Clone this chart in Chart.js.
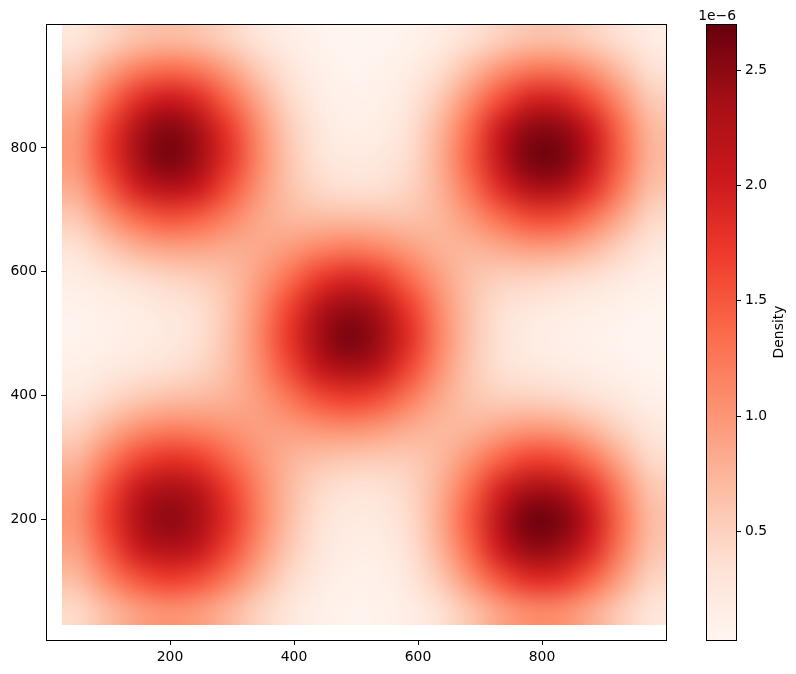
<!DOCTYPE html>
<html>
<head>
<meta charset="utf-8">
<script src="https://cdn.jsdelivr.net/npm/chart.js@4/dist/chart.umd.min.js"></script>
<style>
  html, body { margin: 0; padding: 0; background: #fff; }
  #wrap { width: 796px; height: 674px; }
</style>
</head>
<body>
<div id="wrap"><canvas id="chart" width="796" height="674"></canvas></div>
<script>
// grid cell centres of the density image
const xCenters = [50, 99, 148, 197, 245, 294, 343, 391, 440, 489, 537, 586, 635, 684, 732, 781, 830, 878, 927, 976];
const yCenters = [55, 104, 152, 201, 249, 298, 346, 394, 443, 491, 540, 588, 637, 685, 734, 782, 830, 879, 927, 976];

// density (x 1e-6), one row per yCenter, bottom row first
const density = [
  [0.43, 0.70, 0.94, 1.05, 0.98, 0.76, 0.49, 0.27, 0.12, 0.06, 0.07, 0.15, 0.34, 0.62, 0.92, 1.11, 1.09, 0.86, 0.55, 0.28],
  [0.69, 1.12, 1.51, 1.69, 1.57, 1.22, 0.79, 0.43, 0.20, 0.10, 0.11, 0.25, 0.56, 1.03, 1.52, 1.84, 1.80, 1.43, 0.91, 0.47],
  [0.92, 1.49, 2.01, 2.24, 2.09, 1.63, 1.05, 0.58, 0.28, 0.15, 0.16, 0.34, 0.75, 1.37, 2.03, 2.45, 2.39, 1.90, 1.21, 0.63],
  [1.03, 1.66, 2.24, 2.50, 2.33, 1.82, 1.19, 0.68, 0.35, 0.21, 0.22, 0.40, 0.83, 1.49, 2.20, 2.65, 2.59, 2.06, 1.32, 0.68],
  [0.95, 1.54, 2.08, 2.32, 2.18, 1.71, 1.16, 0.72, 0.44, 0.32, 0.32, 0.45, 0.79, 1.34, 1.95, 2.34, 2.28, 1.81, 1.16, 0.60],
  [0.74, 1.19, 1.61, 1.80, 1.71, 1.39, 1.03, 0.77, 0.64, 0.58, 0.55, 0.56, 0.71, 1.03, 1.42, 1.67, 1.62, 1.29, 0.82, 0.42],
  [0.48, 0.78, 1.05, 1.19, 1.16, 1.03, 0.93, 0.94, 1.01, 1.04, 0.96, 0.81, 0.72, 0.75, 0.89, 1.00, 0.95, 0.75, 0.48, 0.25],
  [0.26, 0.43, 0.58, 0.68, 0.72, 0.79, 0.95, 1.24, 1.55, 1.68, 1.55, 1.21, 0.85, 0.62, 0.53, 0.51, 0.46, 0.36, 0.23, 0.12],
  [0.12, 0.20, 0.28, 0.36, 0.46, 0.67, 1.05, 1.58, 2.08, 2.31, 2.12, 1.61, 1.04, 0.60, 0.36, 0.26, 0.20, 0.15, 0.09, 0.05],
  [0.06, 0.11, 0.16, 0.22, 0.35, 0.63, 1.11, 1.75, 2.35, 2.62, 2.41, 1.83, 1.15, 0.63, 0.33, 0.18, 0.12, 0.09, 0.05, 0.03],
  [0.07, 0.12, 0.18, 0.25, 0.36, 0.61, 1.06, 1.65, 2.21, 2.46, 2.27, 1.72, 1.10, 0.63, 0.36, 0.25, 0.19, 0.14, 0.09, 0.05],
  [0.15, 0.26, 0.37, 0.45, 0.52, 0.65, 0.93, 1.33, 1.74, 1.92, 1.77, 1.37, 0.94, 0.64, 0.51, 0.47, 0.42, 0.34, 0.22, 0.12],
  [0.32, 0.55, 0.77, 0.88, 0.88, 0.82, 0.84, 0.97, 1.15, 1.24, 1.15, 0.95, 0.78, 0.74, 0.83, 0.92, 0.89, 0.72, 0.47, 0.25],
  [0.57, 0.97, 1.34, 1.52, 1.43, 1.16, 0.88, 0.73, 0.70, 0.70, 0.67, 0.64, 0.73, 0.98, 1.32, 1.57, 1.56, 1.26, 0.83, 0.44],
  [0.84, 1.42, 1.96, 2.21, 2.04, 1.56, 1.02, 0.64, 0.44, 0.36, 0.37, 0.48, 0.77, 1.27, 1.84, 2.25, 2.24, 1.82, 1.20, 0.64],
  [1.00, 1.69, 2.33, 2.62, 2.40, 1.81, 1.13, 0.61, 0.32, 0.21, 0.23, 0.40, 0.80, 1.44, 2.13, 2.62, 2.61, 2.12, 1.40, 0.75],
  [0.97, 1.65, 2.27, 2.55, 2.34, 1.75, 1.07, 0.55, 0.25, 0.13, 0.16, 0.34, 0.74, 1.36, 2.03, 2.50, 2.49, 2.03, 1.34, 0.71],
  [0.77, 1.31, 1.81, 2.03, 1.86, 1.39, 0.85, 0.43, 0.18, 0.09, 0.11, 0.25, 0.56, 1.05, 1.57, 1.94, 1.93, 1.57, 1.04, 0.55],
  [0.51, 0.86, 1.18, 1.33, 1.22, 0.91, 0.55, 0.28, 0.12, 0.05, 0.07, 0.16, 0.36, 0.67, 1.00, 1.23, 1.23, 1.00, 0.66, 0.35],
  [0.27, 0.45, 0.63, 0.70, 0.64, 0.48, 0.29, 0.15, 0.06, 0.03, 0.03, 0.08, 0.18, 0.34, 0.51, 0.63, 0.63, 0.51, 0.34, 0.18]
];

const xTicks = [200, 400, 600, 800];
const yTicks = [200, 400, 600, 800];
const cbTicks = [0.5, 1.0, 1.5, 2.0, 2.5];
const vMin = 0.03;
const vMax = 2.70;
const cbOffsetText = '1e\u22126';
const cbLabel = 'Density';

// matplotlib "Reds"
const redsStops = ['#fff5f0', '#fee0d2', '#fcbba1', '#fc9272', '#fb6a4a', '#ef3b2c', '#cb181d', '#a50f15', '#67000d'];
const redsRgb = redsStops.map(h => [1, 3, 5].map(k => parseInt(h.substr(k, 2), 16)));

function redsColor(v) {
  let t = (v - vMin) / (vMax - vMin);
  t = Math.max(0, Math.min(1, t));
  const pos = t * (redsRgb.length - 1);
  const k = Math.min(redsRgb.length - 2, Math.floor(pos));
  const f = pos - k;
  const a = redsRgb[k], b = redsRgb[k + 1];
  return [0, 1, 2].map(c => Math.round(a[c] + (b[c] - a[c]) * f));
}

const FONT = 'DejaVu Sans';
const FONT_SIZE = 13.9;

const heatmapPlugin = {
  id: 'heatmap',
  afterLayout(chart) {
    // move the colour bar axis to the right of the bar
    const cb = chart.scales.cb;
    const barRight = chart.chartArea.right + 70;
    cb.left = barRight;
    cb.right = barRight + 60;
    cb.width = 60;
  },
  beforeDatasetsDraw(chart) {
    const {ctx, chartArea, scales: {x, y}} = chart;
    const nx = xCenters.length, ny = yCenters.length;
    const off = document.createElement('canvas');
    off.width = nx;
    off.height = ny;
    const octx = off.getContext('2d');
    const img = octx.createImageData(nx, ny);
    for (let j = 0; j < ny; j++) {
      const row = density[ny - 1 - j];
      for (let i = 0; i < nx; i++) {
        const c = redsColor(row[i]);
        const p = (j * nx + i) * 4;
        img.data[p] = c[0]; img.data[p + 1] = c[1]; img.data[p + 2] = c[2]; img.data[p + 3] = 255;
      }
    }
    octx.putImageData(img, 0, 0);

    const dx = (xCenters[nx - 1] - xCenters[0]) / (nx - 1);
    const dy = (yCenters[ny - 1] - yCenters[0]) / (ny - 1);
    const left = x.getPixelForValue(xCenters[0] - dx / 2);
    const right = x.getPixelForValue(xCenters[nx - 1] + dx / 2);
    const top = y.getPixelForValue(yCenters[ny - 1] + dy / 2);
    const bottom = y.getPixelForValue(yCenters[0] - dy / 2);

    ctx.save();
    ctx.beginPath();
    ctx.rect(chartArea.left, chartArea.top, chartArea.right - chartArea.left, chartArea.bottom - chartArea.top);
    ctx.clip();
    ctx.imageSmoothingEnabled = true;
    ctx.imageSmoothingQuality = 'high';
    ctx.drawImage(off, left, top, right - left, bottom - top);
    ctx.restore();
  },
  afterDraw(chart) {
    const {ctx, chartArea, scales: {cb}} = chart;
    ctx.save();
    // axes frame
    ctx.strokeStyle = '#000';
    ctx.lineWidth = 1;
    ctx.strokeRect(chartArea.left + 0.5, chartArea.top + 0.5,
      chartArea.right - chartArea.left, chartArea.bottom - chartArea.top);

    // colour bar
    const barRight = cb.left;
    const barLeft = barRight - 30;
    for (let p = Math.round(cb.top); p < Math.round(cb.bottom); p++) {
      const c = redsColor(cb.getValueForPixel(p + 0.5));
      ctx.fillStyle = `rgb(${c[0]},${c[1]},${c[2]})`;
      ctx.fillRect(barLeft, p, barRight - barLeft, 1);
    }
    ctx.strokeRect(barLeft + 0.5, cb.top + 0.5, barRight - barLeft, cb.bottom - cb.top);

    ctx.fillStyle = '#000';
    ctx.font = `${FONT_SIZE}px "${FONT}"`;
    ctx.textAlign = 'right';
    ctx.textBaseline = 'alphabetic';
    ctx.fillText(cbOffsetText, barRight, cb.top - 4);

    ctx.translate(barRight + 47, (cb.top + cb.bottom) / 2);
    ctx.rotate(-Math.PI / 2);
    ctx.textAlign = 'center';
    ctx.fillText(cbLabel, 0, 0);
    ctx.restore();
  }
};

Chart.defaults.color = '#000';
Chart.defaults.font.family = FONT;
Chart.defaults.font.size = FONT_SIZE;

const tickGrid = {
  drawOnChartArea: false,
  drawTicks: true,
  tickLength: 5,
  tickColor: '#000',
  tickWidth: 1
};

new Chart(document.getElementById('chart'), {
  type: 'scatter',
  data: { datasets: [] },
  options: {
    responsive: false,
    devicePixelRatio: 1,
    animation: false,
    layout: { padding: { top: 24, right: 0, bottom: 0, left: 0 } },
    plugins: { legend: { display: false }, tooltip: { enabled: false } },
    scales: {
      x: {
        type: 'linear',
        min: 0,
        max: 1000,
        afterBuildTicks: s => { s.ticks = xTicks.map(v => ({ value: v })); },
        afterFit: s => { s.height = 34; },
        grid: tickGrid,
        border: { display: false },
        ticks: { padding: 4, maxRotation: 0, callback: v => String(v) }
      },
      y: {
        type: 'linear',
        min: 6,
        max: 1000,
        afterBuildTicks: s => { s.ticks = yTicks.map(v => ({ value: v })); },
        afterFit: s => { s.width = 46; },
        grid: tickGrid,
        border: { display: false },
        ticks: { padding: 4, callback: v => String(v) }
      },
      cb: {
        type: 'linear',
        position: 'right',
        min: vMin,
        max: vMax,
        afterBuildTicks: s => { s.ticks = cbTicks.map(v => ({ value: v })); },
        afterFit: s => { s.width = 130; },
        grid: tickGrid,
        border: { display: false },
        ticks: { padding: 4, callback: v => v.toFixed(1) }
      }
    }
  },
  plugins: [heatmapPlugin]
});
</script>
</body>
</html>
